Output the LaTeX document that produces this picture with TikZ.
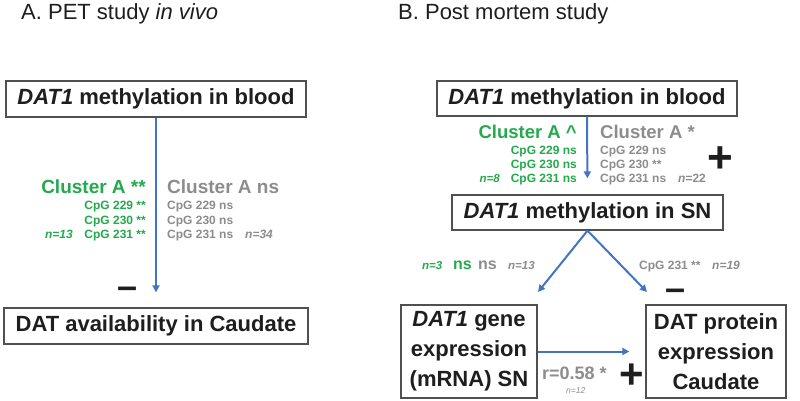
\documentclass[tikz,border=0pt]{standalone}
\usepackage{fontspec}
\setmainfont{Liberation Sans}
\usetikzlibrary{arrows.meta}
\definecolor{grn}{RGB}{34,170,75}
\definecolor{gry}{RGB}{140,140,140}
\definecolor{blu}{RGB}{68,114,196}
\definecolor{txt}{RGB}{30,30,30}
\definecolor{bord}{RGB}{80,80,80}
\newcommand{\fsz}[1]{\fontsize{#1}{#1}\selectfont}
\begin{document}
\begin{tikzpicture}[x=1pt,y=-1pt,
  box/.style={draw=bord, line width=1.3pt, fill=white, text=txt, inner sep=0pt,
    font=\bfseries\fontsize{22}{30}\selectfont, minimum height=36pt, align=center},
  arr/.style={-{Triangle[length=7pt,width=7pt]}, draw=blu, line width=2pt},
  lbl/.style={inner sep=0pt},
  gtxt/.style={lbl, text=grn, font=\bfseries\fsz{12}},
  ytxt/.style={lbl, text=gry, font=\bfseries\fsz{12}},
  sgn/.style={lbl, text=txt, font=\bfseries\fsz{36}, anchor=base}]
\useasboundingbox (0,0) rectangle (800,400);
% ---------- Panel A ----------
\node[lbl, anchor=base west, text=txt, font=\fsz{22}] (tA) at (21,19) {A. PET study \textit{in vivo}};
\node[box, minimum width=300pt] (a1) at (156,99) {\textit{DAT1} methylation in blood};
\node[box, minimum width=304pt] (a2) at (156,326) {DAT availability in Caudate};
\draw[arr, shorten >=15pt] (a1.south) -- (a2.north);
\node[gtxt, anchor=base east, font=\bfseries\fsz{19}] (ca1) at (146,193) {Cluster A **};
\node[ytxt, anchor=base west, font=\bfseries\fsz{19}] (ca2) at (167,193) {Cluster A ns};
\node[gtxt, anchor=base east] (g1) at (146,209) {CpG 229 **};
\node[gtxt, anchor=base east] (g2) at (146,224) {CpG 230 **};
\node[gtxt, anchor=base east] (g3) at (146,238.5) {CpG 231 **};
\node[gtxt, anchor=base east, font=\bfseries\itshape\fsz{12}] (n13) at (73,238.5) {n=13};
\node[ytxt, anchor=base west] (y1) at (167,209) {CpG 229 ns};
\node[ytxt, anchor=base west] (y2) at (167,224) {CpG 230 ns};
\node[ytxt, anchor=base west] (y3) at (167,238.5) {CpG 231 ns};
\node[ytxt, anchor=base west, font=\bfseries\itshape\fsz{12}] (n34) at (245,238.5) {n=34};
\node[sgn] (mA) at (128,298) {–};
% ---------- Panel B ----------
\node[lbl, anchor=base west, text=txt, font=\fsz{22}] (tB) at (398,19) {B. Post mortem study};
\node[box, minimum width=300pt, minimum height=35pt] (b1) at (587,98.5) {\textit{DAT1} methylation in blood};
\node[box, minimum width=271pt, minimum height=35pt] (sn) at (587.5,212.5) {\textit{DAT1} methylation in SN};
\node[box, minimum width=136pt, minimum height=93pt] (m) at (469,351.5) {\textit{DAT1} gene\\expression\\(mRNA) SN};
\node[box, minimum width=140pt, minimum height=93pt] (p) at (716,351.5) {DAT protein\\expression\\Caudate};
\draw[arr, shorten >=16pt] (b1.south) -- (sn.north);
\coordinate (lt) at (538,292);
\coordinate (rt) at (647,292);
\draw[arr] (sn.south) -- (lt);
\draw[arr] (sn.south) -- (rt);
\draw[arr, line width=2pt, shorten >=16pt] (m.east) -- (p.west);
\node[gtxt, anchor=base east, font=\bfseries\fsz{18.5}] (cb1) at (577,138) {Cluster A \textasciicircum};
\node[ytxt, anchor=base west, font=\bfseries\fsz{18.5}] (cb2) at (600,138) {Cluster A *};
\node[gtxt, anchor=base east] (bg1) at (577,154) {CpG 229 ns};
\node[gtxt, anchor=base east] (bg2) at (577,168.3) {CpG 230 ns};
\node[gtxt, anchor=base east] (bg3) at (577,182.5) {CpG 231 ns};
\node[gtxt, anchor=base east, font=\bfseries\itshape\fsz{11.5}] (n8) at (500,182.5) {n=8};
\node[ytxt, anchor=base west] (by1) at (600,154) {CpG 229 ns};
\node[ytxt, anchor=base west] (by2) at (600,168.3) {CpG 230 **};
\node[ytxt, anchor=base west] (by3) at (600,182.5) {CpG 231 ns};
\node[ytxt, anchor=base west] (n22) at (678,182.5) {\textit{n}=22};
\node[sgn, font=\bfseries\fsz{44}] (pB) at (720,172) {+};
\node[gtxt, anchor=base west, font=\bfseries\itshape\fsz{11.5}] (n3) at (422,269) {n=3};
\node[gtxt, anchor=base west, font=\bfseries\fsz{16}] (ns1) at (453,269) {ns};
\node[ytxt, anchor=base west, font=\bfseries\fsz{16}] (ns2) at (478,269) {ns};
\node[ytxt, anchor=base west, font=\bfseries\itshape\fsz{11.5}] (n13b) at (508,269) {n=13};
\node[ytxt, anchor=base west] (c231) at (639,269) {CpG 231 **};
\node[ytxt, anchor=base west, font=\bfseries\itshape\fsz{12}] (n19) at (712,269) {n=19};
\node[sgn] (mB) at (676,300) {–};
\node[ytxt, anchor=base west, font=\bfseries\fsz{18}] (r) at (542,379) {r=0.58 *};
\node[ytxt, anchor=base west, font=\itshape\fsz{8.5}] (n12) at (566,393) {n=12};
\node[sgn, font=\bfseries\fsz{42}] (pB2) at (632,388) {+};
\end{tikzpicture}
\end{document}
